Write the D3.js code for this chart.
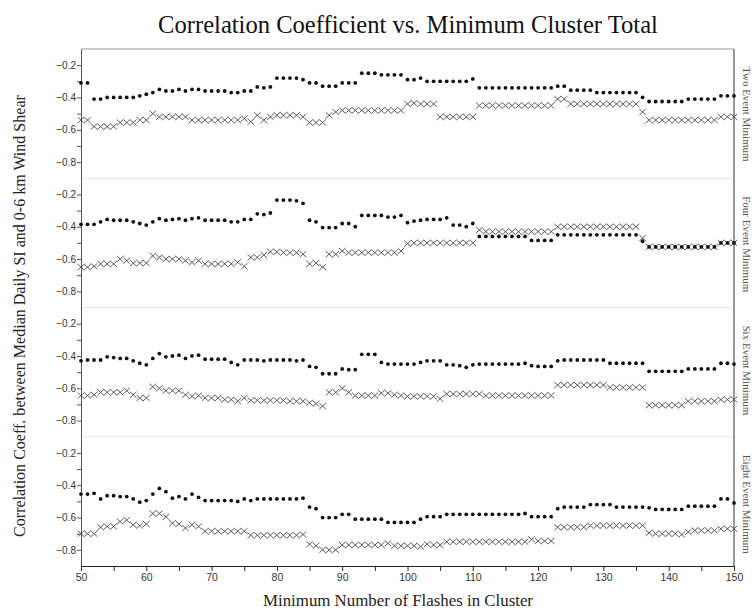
<!DOCTYPE html>
<html>
<head>
<meta charset="utf-8">
<script src="https://cdn.jsdelivr.net/npm/d3@7"></script>
<style>
  html, body { margin: 0; padding: 0; background: #fff; }
  svg { display: block; }
</style>
</head>
<body>
<svg id="chart" width="755" height="613"></svg>
<script>
// Minimum number of flashes in a cluster (x categories)
const minFlashes = d3.range(50, 151);
const xTickValues = d3.range(50, 151, 5);
const yTickValues = [-0.2, -0.3, -0.4, -0.5, -0.6, -0.7, -0.8];
const yLabelValues = [-0.2, -0.4, -0.6, -0.8];
const panelLabels = ["Two Event Minimum", "Four Event Minimum", "Six Event Minimum", "Eight Event Minimum"];

// Correlation coefficients, filled-dot series, one per event minimum
const twoEventDots = [
  -0.31,-0.31,-0.41,-0.41,-0.40,-0.40,-0.40,-0.40,-0.40,-0.39,
  -0.38,-0.37,-0.35,-0.36,-0.36,-0.35,-0.36,-0.35,-0.35,-0.36,
  -0.36,-0.36,-0.36,-0.37,-0.37,-0.36,-0.36,-0.335,-0.34,-0.335,
  -0.28,-0.28,-0.28,-0.28,-0.29,-0.31,-0.31,-0.33,-0.33,-0.33,
  -0.31,-0.31,-0.31,-0.25,-0.25,-0.25,-0.26,-0.26,-0.26,-0.26,
  -0.29,-0.29,-0.28,-0.30,-0.30,-0.30,-0.30,-0.30,-0.30,-0.30,
  -0.285,-0.34,-0.34,-0.34,-0.34,-0.34,-0.34,-0.34,-0.34,-0.34,
  -0.34,-0.34,-0.34,-0.33,-0.33,-0.355,-0.355,-0.355,-0.355,-0.37,
  -0.37,-0.37,-0.37,-0.37,-0.37,-0.37,-0.40,-0.425,-0.425,-0.425,
  -0.425,-0.425,-0.425,-0.41,-0.41,-0.41,-0.41,-0.41,-0.39,-0.39,
  -0.39];
const fourEventDots = [
  -0.385,-0.385,-0.385,-0.37,-0.355,-0.36,-0.36,-0.36,-0.37,-0.38,
  -0.39,-0.37,-0.35,-0.36,-0.355,-0.35,-0.36,-0.35,-0.345,-0.36,
  -0.36,-0.36,-0.36,-0.37,-0.37,-0.355,-0.355,-0.32,-0.325,-0.315,
  -0.235,-0.235,-0.235,-0.24,-0.255,-0.36,-0.37,-0.405,-0.405,-0.405,
  -0.38,-0.38,-0.40,-0.33,-0.33,-0.33,-0.33,-0.34,-0.34,-0.33,
  -0.375,-0.365,-0.36,-0.355,-0.355,-0.355,-0.345,-0.39,-0.39,-0.40,
  -0.38,-0.46,-0.46,-0.46,-0.46,-0.46,-0.46,-0.46,-0.46,-0.485,
  -0.485,-0.485,-0.485,-0.45,-0.45,-0.45,-0.45,-0.45,-0.45,-0.45,
  -0.45,-0.45,-0.45,-0.45,-0.45,-0.45,-0.49,-0.525,-0.525,-0.525,
  -0.525,-0.525,-0.525,-0.525,-0.525,-0.525,-0.525,-0.525,-0.50,-0.50,
  -0.50];
const sixEventDots = [
  -0.43,-0.425,-0.425,-0.425,-0.405,-0.41,-0.415,-0.415,-0.43,-0.445,
  -0.455,-0.415,-0.385,-0.405,-0.40,-0.395,-0.415,-0.40,-0.395,-0.42,
  -0.42,-0.42,-0.42,-0.44,-0.455,-0.425,-0.425,-0.425,-0.43,-0.425,
  -0.425,-0.425,-0.425,-0.43,-0.425,-0.465,-0.47,-0.51,-0.51,-0.51,
  -0.48,-0.485,-0.485,-0.39,-0.39,-0.39,-0.44,-0.45,-0.45,-0.45,
  -0.45,-0.45,-0.44,-0.43,-0.43,-0.43,-0.455,-0.455,-0.46,-0.47,
  -0.455,-0.45,-0.45,-0.45,-0.45,-0.45,-0.45,-0.45,-0.445,-0.46,
  -0.465,-0.465,-0.465,-0.43,-0.425,-0.425,-0.425,-0.425,-0.425,-0.425,
  -0.425,-0.445,-0.445,-0.445,-0.445,-0.445,-0.445,-0.495,-0.495,-0.495,
  -0.495,-0.495,-0.495,-0.48,-0.48,-0.48,-0.48,-0.48,-0.445,-0.445,
  -0.45];
const eightEventDots = [
  -0.455,-0.455,-0.45,-0.485,-0.465,-0.465,-0.47,-0.47,-0.485,-0.505,
  -0.495,-0.455,-0.42,-0.44,-0.48,-0.47,-0.485,-0.455,-0.475,-0.495,
  -0.495,-0.495,-0.495,-0.495,-0.50,-0.485,-0.495,-0.485,-0.485,-0.485,
  -0.485,-0.485,-0.485,-0.485,-0.48,-0.535,-0.545,-0.60,-0.60,-0.60,
  -0.58,-0.58,-0.61,-0.61,-0.61,-0.61,-0.61,-0.63,-0.63,-0.63,
  -0.63,-0.63,-0.61,-0.595,-0.595,-0.595,-0.58,-0.58,-0.58,-0.58,
  -0.58,-0.58,-0.58,-0.58,-0.58,-0.58,-0.58,-0.58,-0.575,-0.595,
  -0.595,-0.595,-0.595,-0.545,-0.535,-0.535,-0.535,-0.535,-0.52,-0.52,
  -0.52,-0.52,-0.535,-0.535,-0.535,-0.535,-0.535,-0.54,-0.55,-0.55,
  -0.55,-0.55,-0.55,-0.53,-0.53,-0.53,-0.53,-0.53,-0.485,-0.485,
  -0.51];

// Correlation coefficients, cross-marker series, one per event minimum
const twoEventCrosses = [
  -0.54,-0.54,-0.58,-0.58,-0.58,-0.58,-0.555,-0.555,-0.555,-0.54,
  -0.54,-0.50,-0.52,-0.52,-0.52,-0.52,-0.52,-0.54,-0.54,-0.54,
  -0.54,-0.54,-0.54,-0.54,-0.54,-0.53,-0.55,-0.51,-0.54,-0.52,
  -0.51,-0.51,-0.51,-0.51,-0.52,-0.555,-0.555,-0.555,-0.51,-0.49,
  -0.48,-0.48,-0.48,-0.48,-0.48,-0.48,-0.48,-0.48,-0.48,-0.48,
  -0.44,-0.435,-0.44,-0.44,-0.44,-0.52,-0.52,-0.52,-0.52,-0.52,
  -0.52,-0.45,-0.45,-0.45,-0.45,-0.45,-0.45,-0.45,-0.45,-0.45,
  -0.45,-0.45,-0.45,-0.41,-0.41,-0.44,-0.44,-0.44,-0.44,-0.44,
  -0.44,-0.44,-0.44,-0.44,-0.44,-0.44,-0.49,-0.54,-0.54,-0.54,
  -0.54,-0.54,-0.54,-0.54,-0.54,-0.54,-0.54,-0.54,-0.52,-0.52,
  -0.52];
const fourEventCrosses = [
  -0.65,-0.65,-0.645,-0.63,-0.63,-0.63,-0.60,-0.61,-0.625,-0.625,
  -0.625,-0.58,-0.59,-0.60,-0.60,-0.60,-0.61,-0.62,-0.61,-0.63,
  -0.63,-0.63,-0.63,-0.63,-0.62,-0.645,-0.59,-0.59,-0.575,-0.555,
  -0.555,-0.56,-0.56,-0.56,-0.57,-0.63,-0.625,-0.65,-0.57,-0.57,
  -0.55,-0.56,-0.56,-0.56,-0.56,-0.56,-0.56,-0.56,-0.56,-0.55,
  -0.505,-0.50,-0.50,-0.50,-0.50,-0.50,-0.50,-0.50,-0.50,-0.50,
  -0.50,-0.42,-0.43,-0.43,-0.43,-0.43,-0.43,-0.43,-0.43,-0.43,
  -0.43,-0.43,-0.43,-0.40,-0.40,-0.40,-0.40,-0.40,-0.40,-0.40,
  -0.40,-0.40,-0.40,-0.40,-0.40,-0.40,-0.47,-0.525,-0.525,-0.525,
  -0.525,-0.525,-0.525,-0.525,-0.525,-0.525,-0.525,-0.525,-0.50,-0.50,
  -0.50];
const sixEventCrosses = [
  -0.645,-0.645,-0.64,-0.625,-0.625,-0.625,-0.625,-0.615,-0.64,-0.66,
  -0.66,-0.59,-0.60,-0.615,-0.615,-0.615,-0.64,-0.65,-0.645,-0.66,
  -0.66,-0.66,-0.67,-0.67,-0.68,-0.66,-0.675,-0.675,-0.675,-0.675,
  -0.675,-0.675,-0.68,-0.68,-0.68,-0.69,-0.695,-0.71,-0.625,-0.625,
  -0.60,-0.625,-0.645,-0.645,-0.645,-0.645,-0.63,-0.63,-0.64,-0.645,
  -0.65,-0.65,-0.65,-0.65,-0.65,-0.665,-0.635,-0.635,-0.635,-0.635,
  -0.635,-0.635,-0.645,-0.645,-0.645,-0.645,-0.645,-0.645,-0.645,-0.645,
  -0.645,-0.645,-0.645,-0.58,-0.58,-0.58,-0.58,-0.58,-0.58,-0.58,
  -0.58,-0.595,-0.595,-0.595,-0.595,-0.595,-0.595,-0.705,-0.705,-0.705,
  -0.705,-0.705,-0.705,-0.68,-0.68,-0.68,-0.68,-0.68,-0.67,-0.67,
  -0.67];
const eightEventCrosses = [
  -0.70,-0.70,-0.70,-0.66,-0.655,-0.655,-0.625,-0.615,-0.645,-0.65,
  -0.64,-0.575,-0.575,-0.595,-0.635,-0.64,-0.665,-0.645,-0.655,-0.685,
  -0.685,-0.685,-0.685,-0.685,-0.685,-0.685,-0.71,-0.71,-0.71,-0.71,
  -0.71,-0.71,-0.71,-0.71,-0.705,-0.765,-0.775,-0.80,-0.80,-0.80,
  -0.77,-0.77,-0.77,-0.77,-0.77,-0.77,-0.77,-0.76,-0.775,-0.775,
  -0.775,-0.775,-0.78,-0.765,-0.77,-0.77,-0.75,-0.75,-0.75,-0.75,
  -0.75,-0.75,-0.75,-0.75,-0.75,-0.75,-0.75,-0.75,-0.75,-0.735,
  -0.745,-0.745,-0.745,-0.66,-0.66,-0.66,-0.66,-0.66,-0.65,-0.65,
  -0.65,-0.65,-0.65,-0.65,-0.65,-0.65,-0.65,-0.695,-0.70,-0.70,
  -0.70,-0.70,-0.705,-0.69,-0.68,-0.68,-0.68,-0.68,-0.67,-0.67,
  -0.67];

const dotSeries = [twoEventDots, fourEventDots, sixEventDots, eightEventDots];
const crossSeries = [twoEventCrosses, fourEventCrosses, sixEventCrosses, eightEventCrosses];

// ---- layout ----
const svg = d3.select("#chart");
const plot = { left: 81, right: 734, top: 49, bottom: 566 };
const panelH = (plot.bottom - plot.top) / panelLabels.length;
const serif = "'Liberation Serif', 'DejaVu Serif', serif";
const sans = "'Liberation Sans', Arial, sans-serif";

svg.append("rect").attr("width", 755).attr("height", 613).attr("fill", "#fff");

const x = d3.scaleLinear().domain([50, 150]).range([plot.left, plot.right]);

// shrink/grow a text so it spans a given width
function fitWidth(sel, width) {
  const fs = parseFloat(sel.attr("font-size"));
  const len = sel.node().getComputedTextLength();
  sel.attr("font-size", (fs * width / len).toFixed(2));
}

// panel separators and frame
for (let i = 1; i < panelLabels.length; i++) {
  const yy = plot.top + i * panelH;
  svg.append("line")
    .attr("x1", plot.left).attr("x2", plot.right)
    .attr("y1", yy).attr("y2", yy)
    .attr("stroke", "#e4e4e4").attr("stroke-width", 1);
}
svg.append("line")
  .attr("x1", plot.left).attr("x2", plot.right)
  .attr("y1", plot.top).attr("y2", plot.top)
  .attr("stroke", "#9a9a9a").attr("stroke-width", 1.2);
svg.append("line")
  .attr("x1", plot.right).attr("x2", plot.right)
  .attr("y1", plot.top).attr("y2", plot.bottom)
  .attr("stroke", "#777").attr("stroke-width", 1.5);

const crossPath = "M-3.3,-3L3.3,3M-3.3,3L3.3,-3";

panelLabels.forEach((label, i) => {
  const top = plot.top + i * panelH;
  const y = d3.scaleLinear().domain([-0.9, -0.1]).range([top + panelH, top]);

  const g = svg.append("g");

  // left axis for this panel
  const axis = d3.axisLeft(y)
    .tickValues(yTickValues)
    .tickSize(4)
    .tickSizeOuter(0)
    .tickFormat(d => yLabelValues.some(v => Math.abs(v - d) < 1e-9) ? d3.format(".1f")(d) : "");
  const ag = g.append("g").attr("transform", `translate(${plot.left},0)`).call(axis);
  ag.select(".domain").attr("stroke", "#555");
  ag.selectAll(".tick line").attr("stroke", "#555");
  ag.selectAll(".tick text")
    .attr("font-family", sans).attr("font-size", 10).attr("fill", "#333")
    .attr("x", -5);

  // cross markers
  g.append("g").selectAll("path")
    .data(minFlashes.map((f, k) => [f, crossSeries[i][k]]))
    .join("path")
    .attr("transform", d => `translate(${x(d[0])},${y(d[1])})`)
    .attr("d", crossPath)
    .attr("fill", "none")
    .attr("stroke", "#4a4a4a")
    .attr("stroke-width", 0.9);

  // filled dots
  g.append("g").selectAll("circle")
    .data(minFlashes.map((f, k) => [f, dotSeries[i][k]]))
    .join("circle")
    .attr("cx", d => x(d[0]))
    .attr("cy", d => y(d[1]))
    .attr("r", 1.9)
    .attr("fill", "#111");

  // panel name on the right edge
  svg.append("text")
    .attr("transform", `translate(743,${top + 18}) rotate(90)`)
    .attr("font-family", serif).attr("font-size", 11)
    .attr("fill", "#555")
    .text(label);
});

// bottom axis
const xAxis = d3.axisBottom(x)
  .tickValues(xTickValues)
  .tickSize(5)
  .tickSizeOuter(0)
  .tickFormat(d => d % 10 === 0 ? d : "");
const xg = svg.append("g").attr("transform", `translate(0,${plot.bottom})`).call(xAxis);
xg.select(".domain").attr("stroke", "#222");
xg.selectAll(".tick line").attr("stroke", "#222");
xg.selectAll(".tick text")
  .attr("font-family", sans).attr("font-size", 10.5).attr("fill", "#333")
  .attr("y", 8);

// titles
const title = svg.append("text")
  .attr("x", 408).attr("y", 33)
  .attr("text-anchor", "middle")
  .attr("font-family", serif).attr("font-size", 21)
  .attr("fill", "#111")
  .text("Correlation Coefficient vs. Minimum Cluster Total");
fitWidth(title, 500);

const xTitle = svg.append("text")
  .attr("x", 398).attr("y", 606)
  .attr("text-anchor", "middle")
  .attr("font-family", serif).attr("font-size", 14)
  .attr("fill", "#222")
  .text("Minimum Number of Flashes in Cluster");
fitWidth(xTitle, 270);

const yTitle = svg.append("text")
  .attr("transform", "translate(25,316) rotate(-90)")
  .attr("text-anchor", "middle")
  .attr("font-family", serif).attr("font-size", 15)
  .attr("fill", "#222")
  .text("Correlation Coeff. between Median Daily SI and 0-6 km Wind Shear");
fitWidth(yTitle, 442);
</script>
</body>
</html>
